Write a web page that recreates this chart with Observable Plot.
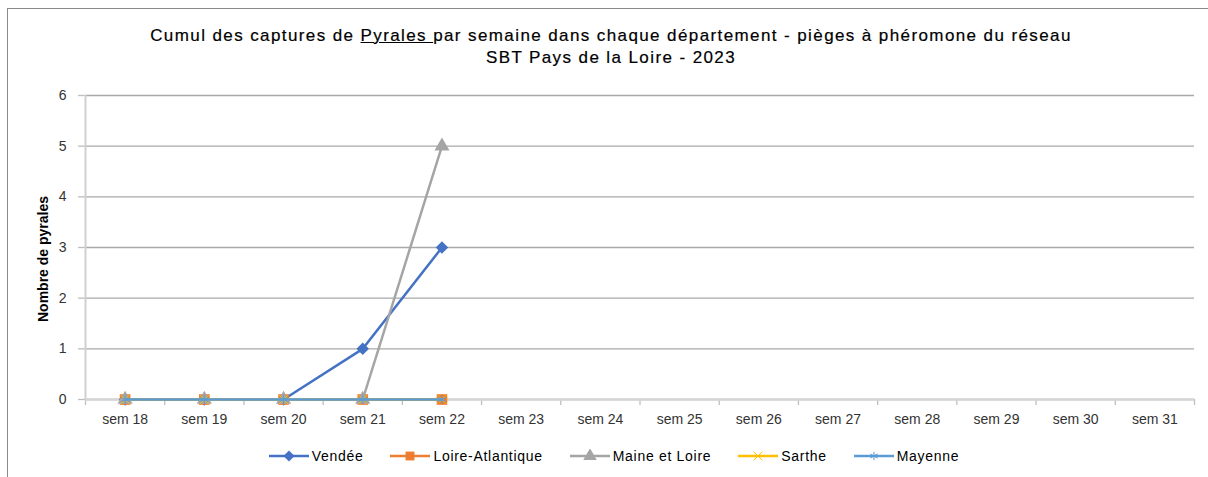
<!DOCTYPE html>
<html>
<head>
<meta charset="utf-8">
<script src="https://cdn.jsdelivr.net/npm/d3@7"></script>
<script src="https://cdn.jsdelivr.net/npm/@observablehq/plot@0.6"></script>
<style>
  html, body { margin: 0; padding: 0; background: #fff; }
  #wrap { position: relative; width: 1208px; height: 477px; overflow: hidden; font-family: "Liberation Sans", Arial, sans-serif; }
  #frame { position: absolute; left: 7px; top: 8px; width: 1300px; height: 600px; border-left: 1px solid #8a8a8a; border-top: 1px solid #8a8a8a; box-sizing: border-box; }
  #title { position: absolute; left: 0; width: 1222px; top: 25px; text-align: center; font-size: 17px; line-height: 22px; color: #000; letter-spacing: 1.4px; -webkit-text-stroke: 0.2px #000; }
  #ytitle { position: absolute; left: 43px; top: 259px; transform: translate(-50%, -50%) rotate(-90deg); white-space: nowrap; font-weight: bold; font-size: 14px; color: #000; }
  #legend { position: absolute; left: 0; width: 1228px; top: 447px; display: flex; justify-content: center; gap: 27px; font-size: 14px; letter-spacing: 0.7px; color: #000; }
  .item { display: flex; align-items: center; gap: 3px; height: 18px; }
  #chart { position: absolute; left: 0; top: 0; }
</style>
</head>
<body>
<div id="wrap">
  <div id="frame"></div>
  <div id="chart"></div>
  <div id="title">Cumul des captures de <u>Pyrales </u>par semaine dans chaque département - pièges à phéromone du réseau<br>SBT Pays de la Loire - 2023</div>
  <div id="ytitle">Nombre de pyrales</div>
  <div id="legend"></div>
</div>
<script>
// ---- data ----
const weeks = ["sem 18","sem 19","sem 20","sem 21","sem 22","sem 23","sem 24","sem 25","sem 26","sem 27","sem 28","sem 29","sem 30","sem 31"];
const seriesNames = ["Vendée","Loire-Atlantique","Maine et Loire","Sarthe","Mayenne"];
const vendee = [0, 0, 0, 1, 3];
const loireAtlantique = [0, 0, 0, 0, 0];
const maineEtLoire = [0, 0, 0, 0, 5];
const sarthe = [0, 0, 0, 0, 0];
const mayenne = [0, 0, 0, 0, 0];
const yTicks = [0, 1, 2, 3, 4, 5, 6];

const seriesValues = [vendee, loireAtlantique, maineEtLoire, sarthe, mayenne];
const colors = ["#4472C4", "#ED7D31", "#A5A5A5", "#FFC000", "#5B9BD5"];
const symbols = ["diamond2", "square", "triangle", "times", "asterisk"];
const radii = [5.6, 6, 5.6, 4, 4];

const marks = [
  Plot.gridY(yTicks, {stroke: "#a9a9a9", strokeOpacity: 1, strokeWidth: 1.3}),
  Plot.axisY(yTicks, {tickSize: 7, tickPadding: 12, tickFormat: d3.format("d"), stroke: "#bfbfbf", strokeWidth: 1.3, fontSize: 14, fill: "#333", label: null, fontFamily: "Liberation Sans, Arial, sans-serif", style: "letter-spacing:0.7px"}),
  Plot.ruleX([-0.5], {stroke: "#d0d0d0", strokeWidth: 2}),
  Plot.axisX(d3.range(weeks.length + 1).map(i => i - 0.5), {tickSize: 6, tickFormat: () => "", stroke: "#bfbfbf", strokeWidth: 1.3, label: null}),
  Plot.ruleY([0], {stroke: "#d6d6d6", strokeWidth: 2.5}),
  Plot.axisX(d3.range(weeks.length), {tickSize: 0, tickPadding: 15, tickFormat: i => weeks[i], fontSize: 14, fill: "#333", label: null, fontFamily: "Liberation Sans, Arial, sans-serif", style: "letter-spacing:1px"})
];

seriesValues.forEach((vals, s) => {
  const data = vals.map((v, i) => ({i, v}));
  marks.push(Plot.line(data, {x: "i", y: "v", stroke: colors[s], strokeWidth: 2.5}));
  const stroked = symbols[s] === "times" || symbols[s] === "asterisk";
  marks.push(Plot.dot(data, stroked
    ? {x: "i", y: "v", symbol: symbols[s], r: radii[s], stroke: colors[s], fill: "none", strokeWidth: 1}
    : {x: "i", y: "v", symbol: symbols[s], r: radii[s], fill: colors[s], stroke: "none"}));
});

const chart = Plot.plot({
  width: 1208,
  height: 477,
  marginTop: 95,
  marginBottom: 78,
  marginLeft: 85,
  marginRight: 14,
  style: {background: "transparent", overflow: "visible"},
  x: {type: "linear", domain: [-0.5, weeks.length - 0.5]},
  y: {type: "linear", domain: [0, 6]},
  marks
});
document.getElementById("chart").appendChild(chart);

// legend
const legend = d3.select("#legend");
const symMap = {diamond2: d3.symbolDiamond2, square: d3.symbolSquare, triangle: d3.symbolTriangle, times: d3.symbolTimes, asterisk: d3.symbolAsterisk};
seriesNames.forEach((name, s) => {
  const item = legend.append("div").attr("class", "item");
  const svg = item.append("svg").attr("width", 40).attr("height", 14);
  svg.append("line").attr("x1", 0).attr("x2", 40).attr("y1", 7).attr("y2", 7).attr("stroke", colors[s]).attr("stroke-width", 2.5);
  const stroked = symbols[s] === "times" || symbols[s] === "asterisk";
  const r = Math.min(radii[s], 5);
  svg.append("path").attr("transform", "translate(20,7)")
    .attr("d", d3.symbol(symMap[symbols[s]], Math.PI * r * r)())
    .attr("fill", stroked ? "none" : colors[s])
    .attr("stroke", stroked ? colors[s] : "none")
    .attr("stroke-width", 1);
  item.append("span").text(name);
});
</script>
</body>
</html>
